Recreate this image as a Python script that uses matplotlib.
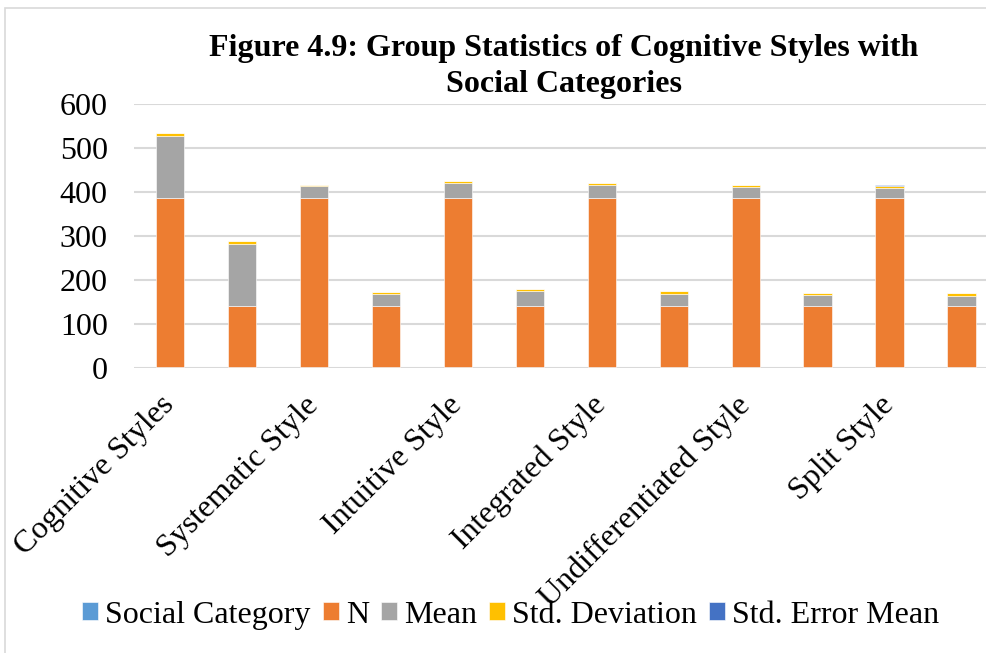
import numpy as np
import matplotlib.pyplot as plt
from matplotlib.patches import Rectangle

plt.rcParams['font.family'] = ['Liberation Serif', 'DejaVu Serif']

categories = ["Cognitive Styles", "", "Systematic Style", "", "Intuitive Style", "",
              "Integrated Style", "", "Undifferentiated Style", "", "Split Style", ""]

social_category = [1, 2, 1, 2, 1, 2, 1, 2, 1, 2, 1, 2]
n_values = [386, 139, 386, 139, 386, 139, 386, 139, 386, 139, 386, 139]
mean_values = [141, 141, 27, 27.6, 34, 33.7, 29, 27.6, 25, 24.6, 23, 23]
std_dev = [6, 6, 3, 3, 4, 4.3, 4.6, 5.4, 4, 4.4, 5, 5.5]
std_err = [0.3, 0.5, 0.2, 0.3, 0.2, 0.4, 0.2, 0.5, 0.2, 0.4, 0.3, 0.5]

series = [
    ("Social Category", social_category, "#5B9BD5"),
    ("N", n_values, "#ED7D31"),
    ("Mean", mean_values, "#A5A5A5"),
    ("Std. Deviation", std_dev, "#FFC000"),
    ("Std. Error Mean", std_err, "#4472C4"),
]

fig = plt.figure(figsize=(9.86, 6.53), dpi=100)
ax = fig.add_axes([0.136, 0.437, 0.876, 0.403])

x = np.arange(len(categories))
bottom = np.zeros(len(categories))
for name, vals, color in series:
    ax.bar(x, vals, width=0.4, bottom=bottom, color=color, label=name,
           edgecolor="white", linewidth=0.4, zorder=3)
    bottom += np.array(vals)

ax.set_xlim(-0.5, len(categories) - 0.5)
ax.set_ylim(0, 600)
ax.set_yticks(range(0, 601, 100))
ax.yaxis.grid(True, color="#d9d9d9", linewidth=1.5, zorder=0)
for s in ax.spines.values():
    s.set_visible(False)
ax.tick_params(axis="both", length=0, labelsize=23)
ax.tick_params(axis="y", pad=19)
ax.set_xticks(x)
ax.set_xticklabels(categories, rotation=45, ha="right", va="center",
                   rotation_mode="anchor")
ax.tick_params(axis="x", pad=24)

fig.text(0.572, 0.898, "Figure 4.9: Group Statistics of Cognitive Styles with\nSocial Categories",
         ha="center", va="center", fontsize=23, fontweight="bold", linespacing=1.35)

fig.legend(loc="center", bbox_to_anchor=(0.518, 0.058), ncol=5, frameon=False,
           fontsize=23, handlelength=0.5, handleheight=0.5, handletextpad=0.22,
           columnspacing=0.38)

# light chart-area frame
fig.patches.append(Rectangle((5 / 986, -0.1), 1.2, 1 - 8 / 653 + 0.1,
                             transform=fig.transFigure, fill=False,
                             edgecolor="#d9d9d9", linewidth=1.2))

fig.savefig("out.png", dpi=100)
